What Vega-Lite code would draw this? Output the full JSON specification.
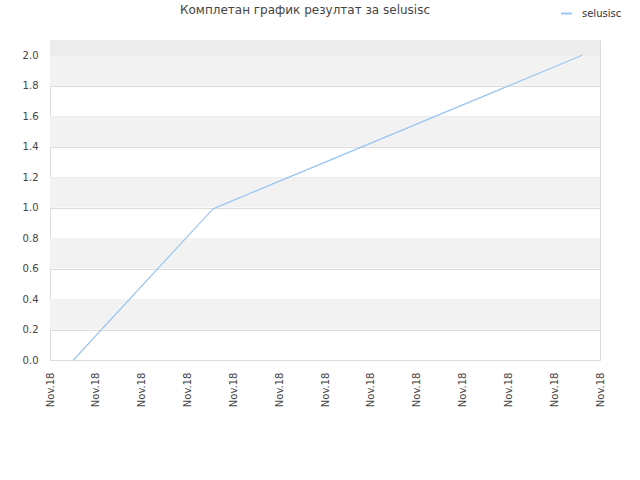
{
  "$schema": "https://vega.github.io/schema/vega-lite/v6.json",
  "width": 550,
  "height": 320,
  "autosize": {"type": "none"},
  "padding": {"left": 50, "top": 40, "right": 40, "bottom": 120},
  "background": "white",
  "title": {
    "text": "Комплетан график резултат за selusisc",
    "font": "DejaVu Sans",
    "fontSize": 12,
    "fontWeight": "normal",
    "color": "#444444",
    "anchor": "middle",
    "dx": -20,
    "offset": -10
  },
  "config": {
    "view": {"stroke": "#dddddd", "strokeWidth": 1},
    "axis": {
      "labelFont": "DejaVu Sans",
      "labelFontSize": 10,
      "labelColor": "#444444",
      "labelOverlap": false,
      "domain": false,
      "ticks": false,
      "gridColor": "#dcdcdc",
      "gridOpacity": 1,
      "zindex": 1
    },
    "legend": {"labelFont": "DejaVu Sans", "labelFontSize": 10, "labelColor": "#333333"}
  },
  "datasets": {
    "series": [
      {"t": 0.51, "value": 0.0, "name": "selusisc"},
      {"t": 3.55, "value": 0.99, "name": "selusisc"},
      {"t": 3.62, "value": 1.0, "name": "selusisc"},
      {"t": 11.61, "value": 2.0, "name": "selusisc"}
    ],
    "bands": [
      {"lo": 0.2, "hi": 0.4},
      {"lo": 0.6, "hi": 0.8},
      {"lo": 1.0, "hi": 1.2},
      {"lo": 1.4, "hi": 1.6},
      {"lo": 1.8, "hi": 2.0}
    ],
    "topband": [{"lo": 2.0, "hi": 2.1}]
  },
  "layer": [
    {
      "data": {"name": "bands"},
      "mark": {"type": "rect", "fill": "#f2f2f2"},
      "encoding": {
        "y": {
          "field": "lo",
          "type": "quantitative",
          "scale": {"domain": [0, 2.1], "nice": false},
          "axis": {
            "title": null,
            "values": [0, 0.2, 0.4, 0.6, 0.8, 1.0, 1.2, 1.4, 1.6, 1.8, 2.0],
            "format": ".1f",
            "labelPadding": 12,
            "labelOverlap": false,
            "grid": true
          }
        },
        "y2": {"field": "hi"}
      }
    },
    {
      "data": {"name": "topband"},
      "mark": {"type": "rect", "fill": "#ececec"},
      "encoding": {
        "y": {
          "field": "lo",
          "type": "quantitative",
          "axis": {
            "title": null,
            "values": [0, 0.2, 0.4, 0.6, 0.8, 1.0, 1.2, 1.4, 1.6, 1.8, 2.0],
            "format": ".1f",
            "labelPadding": 12,
            "labelOverlap": false,
            "grid": true
          }
        },
        "y2": {"field": "hi"}
      }
    },
    {
      "data": {"name": "series"},
      "mark": {"type": "line", "strokeWidth": 1.2},
      "encoding": {
        "x": {
          "field": "t",
          "type": "quantitative",
          "scale": {"domain": [0, 12], "nice": false, "zero": false},
          "axis": {
            "title": null,
            "values": [0, 1, 2, 3, 4, 5, 6, 7, 8, 9, 10, 11, 12],
            "labelExpr": "'Nov.18'",
            "labelAngle": -90,
            "labelPadding": 12,
            "grid": false
          }
        },
        "y": {
          "field": "value",
          "type": "quantitative",
          "scale": {"domain": [0, 2.1], "nice": false},
          "axis": {
            "title": null,
            "values": [0, 0.2, 0.4, 0.6, 0.8, 1.0, 1.2, 1.4, 1.6, 1.8, 2.0],
            "format": ".1f",
            "labelPadding": 12,
            "labelOverlap": false,
            "grid": true
          }
        },
        "color": {
          "field": "name",
          "type": "nominal",
          "scale": {"range": ["#9ac6f2"]},
          "legend": {
            "title": null,
            "orient": "none",
            "legendX": 510,
            "legendY": -33,
            "labelOffset": 9,
            "symbolType": "stroke",
            "symbolSize": 120,
            "symbolStrokeWidth": 2
          }
        }
      }
    }
  ]
}
